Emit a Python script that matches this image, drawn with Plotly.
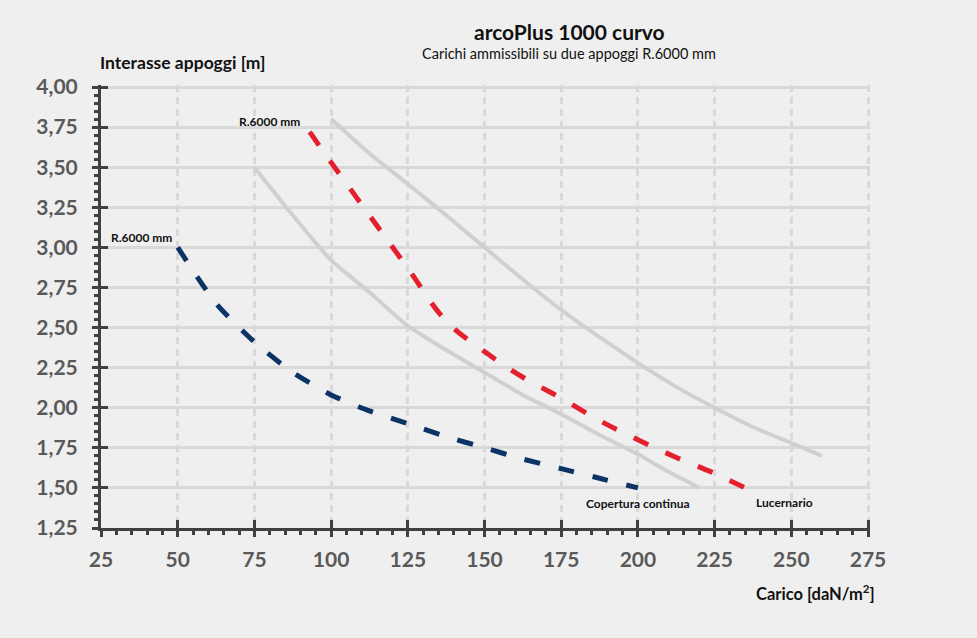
import plotly.graph_objects as go

# ---- data ----
gray_a_x = [75, 87.5, 100, 112.5, 125, 137.5, 150, 162.5, 175, 187.5, 200, 210, 220]
gray_a_y = [3.50, 3.20, 2.92, 2.72, 2.51, 2.36, 2.22, 2.08, 1.96, 1.83, 1.71, 1.60, 1.50]

gray_b_x = [100, 112.5, 125, 137.5, 150, 162.5, 175, 187.5, 200, 212.5, 225, 237.5, 250, 260]
gray_b_y = [3.80, 3.585, 3.395, 3.20, 3.00, 2.80, 2.61, 2.44, 2.28, 2.13, 2.00, 1.88, 1.78, 1.70]

lucernario_x = [93, 100, 112.5, 125, 137.5, 150, 162.5, 175, 187.5, 200, 212.5, 225, 236]
lucernario_y = [3.72, 3.53, 3.20, 2.87, 2.54, 2.35, 2.19, 2.06, 1.92, 1.80, 1.69, 1.59, 1.49]

copertura_x = [50, 62.5, 75, 87.5, 100, 112.5, 125, 137.5, 150, 162.5, 175, 187.5, 200]
copertura_y = [3.00, 2.65, 2.41, 2.22, 2.08, 1.98, 1.90, 1.82, 1.75, 1.68, 1.62, 1.56, 1.50]

x_ticks = [25, 50, 75, 100, 125, 150, 175, 200, 225, 250, 275]
y_ticks = [1.25, 1.50, 1.75, 2.00, 2.25, 2.50, 2.75, 3.00, 3.25, 3.50, 3.75, 4.00]

title = "arcoPlus 1000 curvo"
subtitle = "Carichi ammissibili su due appoggi R.6000 mm"

FONT = "Lato"
BG = "#efefef"
AX = "#404040"
GRID = "#d9d9d9"
CURVE_GRAY = "#d0d0d0"
RED = "#e5202e"
BLUE = "#0b3366"

fig = go.Figure()

# gray reference curves on the main axes
fig.add_trace(go.Scatter(x=gray_a_x, y=gray_a_y, mode="lines",
                         line=dict(color=CURVE_GRAY, width=4, shape="spline", smoothing=0.6),
                         hoverinfo="skip", showlegend=False))
fig.add_trace(go.Scatter(x=gray_b_x, y=gray_b_y, mode="lines",
                         line=dict(color=CURVE_GRAY, width=4, shape="spline", smoothing=0.6),
                         hoverinfo="skip", showlegend=False))
# dashed series on the overlay axes (which also draw the inner half of the cross ticks)
fig.add_trace(go.Scatter(x=lucernario_x, y=lucernario_y, mode="lines", name="Lucernario",
                         xaxis="x2", yaxis="y2",
                         line=dict(color=RED, width=5, dash="16px,19px", shape="spline", smoothing=1.0),
                         showlegend=False))
fig.add_trace(go.Scatter(x=copertura_x, y=copertura_y, mode="lines", name="Copertura continua",
                         xaxis="x2", yaxis="y2",
                         line=dict(color=BLUE, width=5, dash="16px,19px", shape="spline", smoothing=0.6),
                         showlegend=False))

tickfont = dict(family=FONT, size=21, color="#595959", weight="bold")

# ranges extended by ~2px so the edge gridlines (4,00 and 275) are drawn
X_RANGE = [25, 275.65]
Y_RANGE = [1.25, 4.0125]

fig.update_layout(
    width=977, height=638,
    paper_bgcolor=BG, plot_bgcolor=BG,
    margin=dict(l=101, r=107, t=85, b=110),
    separators=",.",
    font=dict(family=FONT),
    xaxis=dict(range=X_RANGE, tickvals=x_ticks, ticktext=[str(v) for v in x_ticks],
               showgrid=True, gridcolor=GRID, gridwidth=2.5, griddash="7px,5px",
               showline=True, linecolor=AX, linewidth=3,
               ticks="outside", ticklen=6, tickwidth=3, tickcolor=AX,
               minor=dict(dtick=5, tick0=25, ticks="outside", ticklen=4, tickwidth=3,
                          tickcolor=AX, showgrid=False),
               ticklabelstandoff=5,
               tickfont=tickfont, zeroline=False, fixedrange=True),
    yaxis=dict(range=Y_RANGE, tickvals=y_ticks, ticktext=[f"{v:.2f}".replace(".", ",") for v in y_ticks],
               showgrid=True, gridcolor=GRID, gridwidth=2.5,
               showline=True, linecolor=AX, linewidth=3,
               ticks="outside", ticklen=6, tickwidth=3, tickcolor=AX,
               minor=dict(dtick=0.05, tick0=1.25, ticks="outside", ticklen=4, tickwidth=3,
                          tickcolor=AX, showgrid=False),
               ticklabelstandoff=10,
               tickfont=tickfont, zeroline=False, fixedrange=True),
    xaxis2=dict(range=X_RANGE, overlaying="x", anchor="y2", side="bottom",
                tickvals=x_ticks, showticklabels=False, showgrid=False, showline=False,
                ticks="inside", ticklen=8, tickwidth=3, tickcolor=AX, zeroline=False,
                fixedrange=True),
    yaxis2=dict(range=Y_RANGE, overlaying="y", anchor="x2", side="left",
                tickvals=y_ticks, showticklabels=False, showgrid=False, showline=False,
                ticks="inside", ticklen=7, tickwidth=3, tickcolor=AX, zeroline=False,
                fixedrange=True),
)

PH = 638 - 85 - 110   # plot height in px
PW = 977 - 101 - 107  # plot width in px
def px_x(px):
    return (px - 101) / PW
def px_y(py):
    return (638 - 110 - py) / PH

ann_font = dict(family=FONT, size=12, color="#111111", weight="bold")
annotations = [
    dict(text=title, xref="paper", yref="paper", x=px_x(569), y=px_y(31),
         showarrow=False, font=dict(family=FONT, size=21, color="#111111", weight="bold"),
         xanchor="center", yanchor="middle"),
    dict(text=subtitle, xref="paper", yref="paper", x=px_x(569), y=px_y(54),
         showarrow=False, font=dict(family=FONT, size=14.5, color="#111111"),
         xanchor="center", yanchor="middle"),
    dict(text="Interasse appoggi [m]", xref="paper", yref="paper", x=px_x(98), y=px_y(62),
         showarrow=False, font=dict(family=FONT, size=17.5, color="#111111", weight="bold"),
         xanchor="left", yanchor="middle"),
    dict(text="Carico [daN/m<sup>2</sup>]", xref="paper", yref="paper", x=px_x(877), y=px_y(593),
         showarrow=False, font=dict(family=FONT, size=16.5, color="#111111", weight="bold"),
         xanchor="right", yanchor="middle"),
    dict(text="R.6000 mm", x=80, y=3.786, showarrow=False, font=ann_font,
         xanchor="center", yanchor="middle"),
    dict(text="R.6000 mm", x=38.1, y=3.06, showarrow=False, font=ann_font,
         xanchor="center", yanchor="middle"),
    dict(text="Copertura continua", x=200, y=1.405, showarrow=False, font=ann_font,
         xanchor="center", yanchor="middle"),
    dict(text="Lucernario", x=247.7, y=1.41, showarrow=False, font=ann_font,
         xanchor="center", yanchor="middle"),
]
fig.update_layout(annotations=annotations)

fig.write_html(
    "out.html",
    config={"displayModeBar": False},
    post_script="document.body.style.margin='0';document.body.style.background='#efefef';document.body.style.overflow='hidden';",
)
